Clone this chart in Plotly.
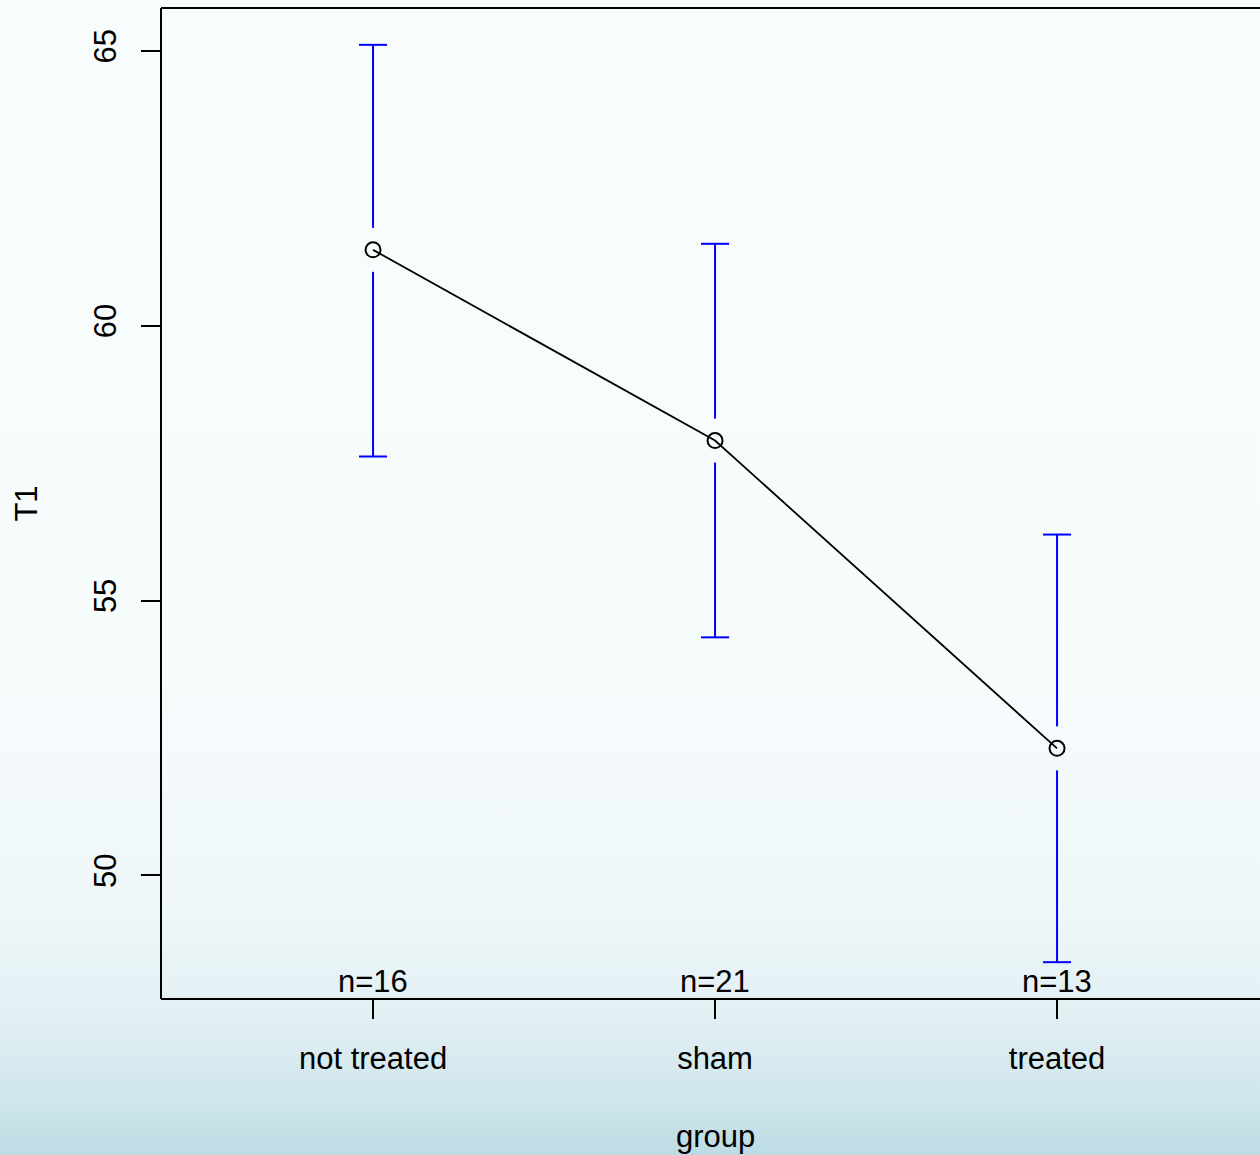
import base64
import plotly.graph_objects as go

groups = ["not treated", "sham", "treated"]
means = [61.38, 57.91, 52.31]
upper = [65.11, 61.49, 56.20]
lower = [57.62, 54.33, 48.42]
counts = [16, 21, 13]
y_ticks = [50, 55, 60, 65]

W, H = 1260, 1155
ML, MT, MB, MR = 161, 8, 156, 0
pw, ph = W - ML - MR, H - MT - MB

xs = list(range(1, len(groups) + 1))
x_lo = 0.38
x_hi = x_lo + pw / 342.0
y_lo, y_hi = 47.75, 65.78

gap = 0.4     # gap around mean point (data units)
cap = 0.041   # half cap width (x units)

bx, by = [], []
for x, m, u, l in zip(xs, means, upper, lower):
    bx += [x, x, None, x, x, None, x - cap, x + cap, None, x - cap, x + cap, None]
    by += [m + gap, u, None, m - gap, l, None, u, u, None, l, l, None]

svg = f'''<svg xmlns="http://www.w3.org/2000/svg" width="{W}" height="{H}">
<defs><linearGradient id="g" x1="0" y1="0" x2="0" y2="1">
<stop offset="0" stop-color="#f8fcfd"/>
<stop offset="0.6" stop-color="#f6fbfc"/>
<stop offset="0.78" stop-color="#eff7f9"/>
<stop offset="0.88" stop-color="#e2f0f4"/>
<stop offset="0.95" stop-color="#cfe6ec"/>
<stop offset="1" stop-color="#bddbe3"/>
</linearGradient></defs>
<rect width="{W}" height="{H}" fill="url(#g)"/></svg>'''
src = "data:image/svg+xml;base64," + base64.b64encode(svg.encode()).decode()

fig = go.Figure()
fig.add_trace(go.Scatter(x=bx, y=by, mode="lines", line=dict(color="#0000ff", width=2),
                         hoverinfo="skip", showlegend=False))
fig.add_trace(go.Scatter(x=xs, y=means, mode="lines+markers",
                         line=dict(color="black", width=1.8),
                         marker=dict(symbol="circle-open", size=15, color="black",
                                     line=dict(width=2, color="black")),
                         showlegend=False))

for x, n in zip(xs, counts):
    fig.add_annotation(x=x, y=0, xref="x", yref="paper", text=f"n={n}",
                       showarrow=False, yanchor="bottom", yshift=-2,
                       font=dict(size=31, color="black"))

# x-axis title centred on the middle group (as in the original device region)
fig.add_annotation(x=xs[len(xs) // 2], y=0, xref="x", yref="paper", text="group",
                   showarrow=False, yanchor="middle", yshift=-137,
                   font=dict(size=31, color="black"))

fig.add_layout_image(dict(source=src, xref="paper", yref="paper",
                          x=-ML / pw, y=1 + MT / ph, sizex=W / pw, sizey=H / ph,
                          sizing="stretch", layer="below", xanchor="left", yanchor="top"))

for (x0, y0, x1, y1) in [(0, 0, 0, 1), (0, 1, 1.01, 1), (0, 0, 1.01, 0)]:
    fig.add_shape(type="line", xref="paper", yref="paper", x0=x0, y0=y0, x1=x1, y1=y1,
                  line=dict(color="black", width=2))

fig.update_layout(
    width=W, height=H,
    margin=dict(l=ML, r=MR, t=MT, b=MB, pad=0),
    paper_bgcolor="#f8fcfd", plot_bgcolor="rgba(0,0,0,0)",
    font=dict(family="Liberation Sans, Arial, sans-serif", size=31, color="black"),
    xaxis=dict(range=[x_lo, x_hi], tickvals=xs, ticktext=groups, showgrid=False,
               zeroline=False, showline=False, ticks="outside", ticklen=19, tickwidth=2,
               tickcolor="black", ticklabelstandoff=13),
    yaxis=dict(range=[y_lo, y_hi], tickvals=y_ticks, showgrid=False, zeroline=False,
               showline=False, ticks="outside", ticklen=19, tickwidth=2, tickcolor="black",
               tickangle=-90, ticklabelstandoff=13,
               title=dict(text="T1", standoff=40, font=dict(size=31))),
)

fig.write_html("out.html", config={"displayModeBar": False},
               post_script="document.body.style.margin='0';")
